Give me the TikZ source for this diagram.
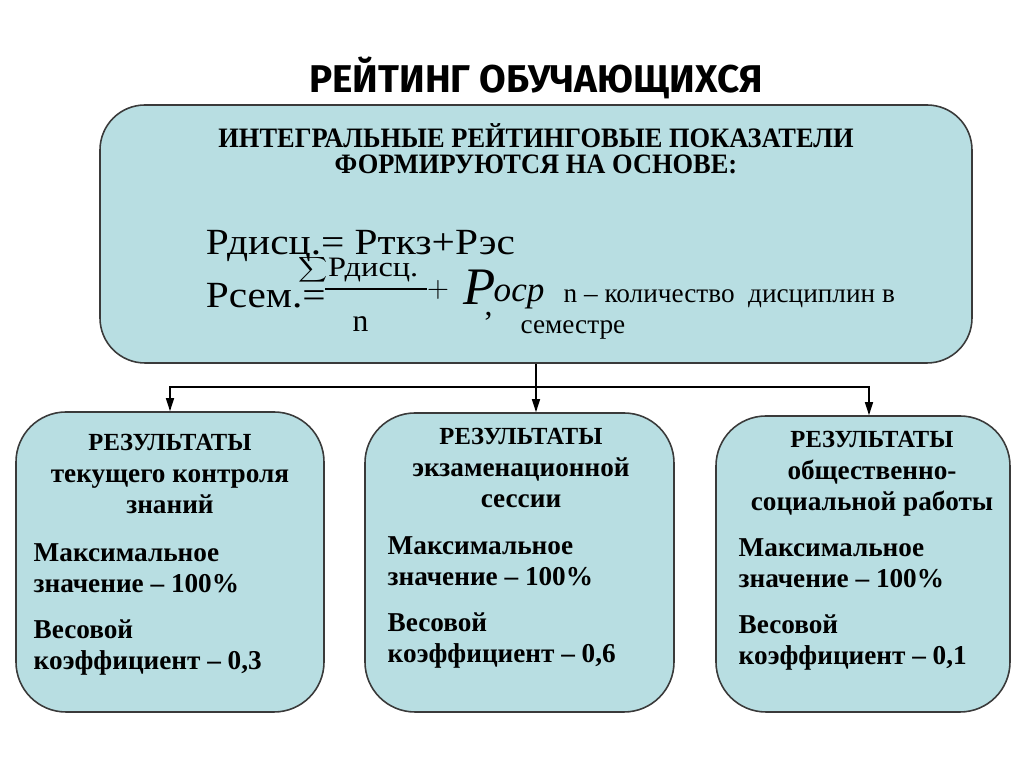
\documentclass[tikz,border=0pt]{standalone}
\usepackage{fontspec}
\usepackage{graphicx}
\setmainfont{Liberation Serif}
\newfontfamily\titlefont{Fira Sans}
\usetikzlibrary{positioning,arrows.meta}
\definecolor{boxfill}{HTML}{B8DEE2}
\definecolor{boxline}{HTML}{3A3A3A}
\tikzset{
  panel/.style={draw=boxline, line width=0.9pt, fill=boxfill, rounded corners=1cm},
  head/.style={font=\bfseries\fontsize{15.5}{17.8}\selectfont, align=center, inner sep=0pt, anchor=north},
  body/.style={font=\bfseries\fontsize{15.5}{17.6}\selectfont, align=left, inner sep=0pt, anchor=north west},
  formula/.style={inner sep=0pt, anchor=base west},
}
\begin{document}
\begin{tikzpicture}[>={Triangle[length=2.6mm,width=1.6mm]}, line width=0.8pt]
    \useasboundingbox (0,0) rectangle (20.48,15.36);
    % title
    \node (title) at (10.72,13.8) {\titlefont\bfseries\fontsize{22}{24}\selectfont РЕЙТИНГ ОБУЧАЮЩИХСЯ};
    % main box
    \node (main) [panel, rounded corners=0.9cm, minimum width=17.44cm, minimum height=5.16cm] at (10.72,10.68) {};
    \node (mainhead) [head, font=\bfseries\fontsize{16}{15}\selectfont, xscale=0.94, transform shape] at (10.72,12.9)
        {ИНТЕГРАЛЬНЫЕ РЕЙТИНГОВЫЕ ПОКАЗАТЕЛИ\\ФОРМИРУЮТСЯ НА ОСНОВЕ:};
    % formulas
    \node (pdisc) [formula, font=\fontsize{21}{24}\selectfont, xscale=1.12, transform shape] at (4.1,10.26) {Рдисц.= Рткз+Рэс};
    \node (psem) [formula, font=\fontsize{21}{24}\selectfont, xscale=1.12, transform shape] at (4.1,9.2) {Рсем.=};
    \node (sumtop) [formula, font=\fontsize{16}{18}\selectfont, xscale=1.15, transform shape] at (5.96,9.82) {$\displaystyle\sum$Рдисц.};
    \draw[line width=0.6pt] (6.5,9.58) -- (8.54,9.58);
    \node (nden) [formula, font=\fontsize{18}{20}\selectfont] at (7.04,8.72) {n};
    \node (plus) [font=\fontsize{16}{16}\selectfont, inner sep=0pt] at (8.76,9.56) {$+$};
    \node (pbig) [formula, font=\fontsize{30}{32}\selectfont] at (9.26,9.26) {\textit{P}};
    \node (ocp) [formula, font=\fontsize{20}{22}\selectfont] at (9.86,9.32) {\textit{оср}};
    \node (comma) [formula, font=\fontsize{18}{20}\selectfont] at (9.68,9.04) {,};
    \node (note) [formula, font=\fontsize{15.5}{17}\selectfont] at (11.26,9.3) {n – количество\ \ дисциплин в};
    \node (note2) [formula, font=\fontsize{15.5}{17}\selectfont] at (10.4,8.68) {семестре};
    % lower boxes
    \node (cur) [panel, minimum width=6.16cm, minimum height=6.0cm] at (3.4,4.12) {};
    \node (exam) [panel, minimum width=6.18cm, minimum height=5.98cm] at (10.39,4.11) {};
    \node (soc) [panel, minimum width=5.88cm, minimum height=5.92cm] at (17.26,4.08) {};
    \node (curhead) [head] at (3.4,6.68) {{\fontsize{14}{17.8}\selectfont РЕЗУЛЬТАТЫ}\\текущего контроля\\знаний};
    \node (examhead) [head] at (10.42,6.8) {{\fontsize{14}{17.8}\selectfont РЕЗУЛЬТАТЫ}\\экзаменационной\\сессии};
    \node (sochead) [head] at (17.44,6.74) {{\fontsize{14}{17.8}\selectfont РЕЗУЛЬТАТЫ}\\общественно-\\социальной работы};
    \node (curbody) [body] at (0.66,4.5) {Максимальное\\значение – 100\%\\[0.3cm]Весовой\\коэффициент – 0,3};
    \node (exambody) [body] at (7.74,4.64) {Максимальное\\значение – 100\%\\[0.3cm]Весовой\\коэффициент – 0,6};
    \node (socbody) [body] at (14.76,4.6) {Максимальное\\значение – 100\%\\[0.3cm]Весовой\\коэффициент – 0,1};
    % connectors
    \coordinate (split) at (10.72,7.62);
    \draw (main.south) -- (split);
    \draw[->] (split) -| (cur.north);
    \draw[->] (split) -- (exam.north -| split);
    \draw[->] (split) -| ([xshift=0.12cm]soc.north);
\end{tikzpicture}
\end{document}
